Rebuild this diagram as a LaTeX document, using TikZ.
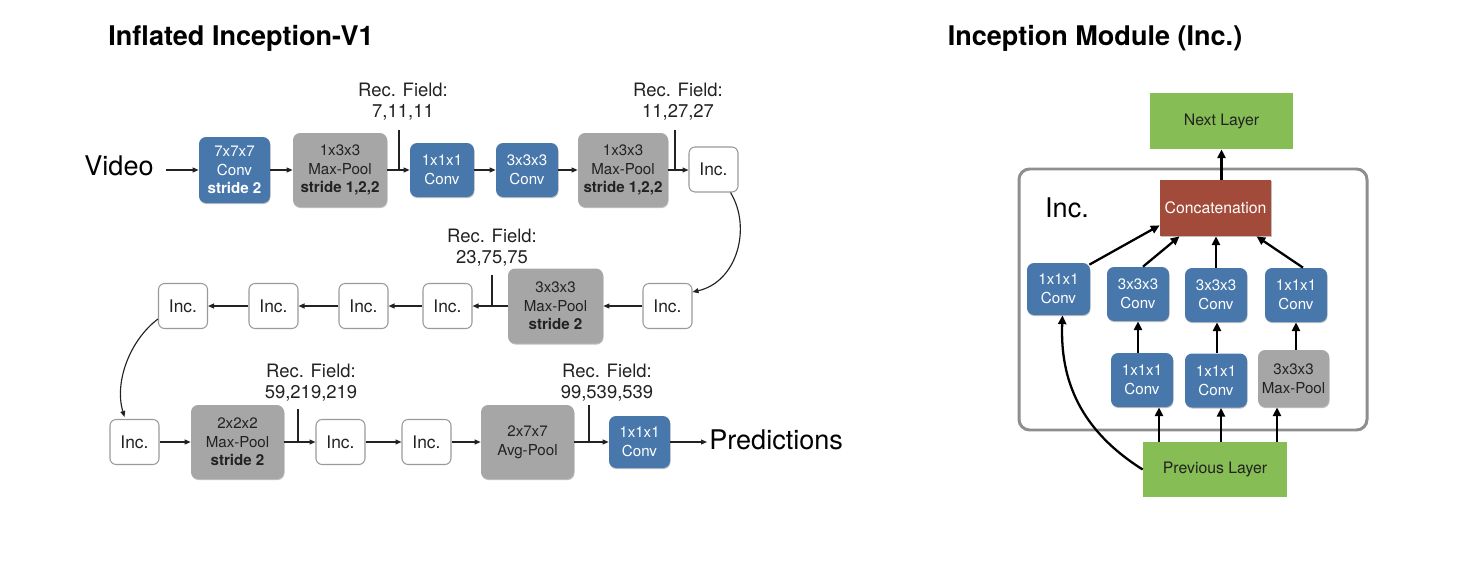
\documentclass[tikz,border=0pt]{standalone}
\usepackage{fontspec}
\setmainfont{TeX Gyre Heros}
\usetikzlibrary{arrows.meta,calc,shadows}

\definecolor{convblue}{HTML}{4878AB}
\definecolor{poolgray}{HTML}{A6A6A6}
\definecolor{layergreen}{HTML}{86BD55}
\definecolor{concatred}{HTML}{A34B3A}
\definecolor{framegray}{HTML}{8E8E8E}
\definecolor{incborder}{HTML}{9A9A9A}
\definecolor{ink}{HTML}{222222}

\tikzset{
  sz/.style 2 args={minimum width=#1*0.02cm, minimum height=#2*0.02cm},
  softshadow/.style={drop shadow={shadow xshift=0.3pt, shadow yshift=-0.6pt, opacity=0.25, fill=black}},
  blk/.style={rounded corners=4pt, inner sep=0pt, align=center,
    font=\fontsize{8.6}{10.6}\selectfont, softshadow},
  conv/.style={blk, fill=convblue, text=white},
  pool/.style={blk, fill=poolgray, text=ink},
  inc/.style={draw=incborder, line width=0.6pt, fill=white, rounded corners=3.5pt,
    sz={49}{45}, inner sep=0pt, font=\fontsize{9.9}{12}\selectfont, text=ink},
  rec/.style={align=center, font=\fontsize{10.5}{11.9}\selectfont, text=ink, inner sep=0pt},
  big/.style={font=\fontsize{15.4}{18}\selectfont, text=black, inner sep=0pt},
  title/.style={font=\fontsize{15.4}{18}\selectfont\bfseries, text=black, inner sep=0pt},
  arr/.style={-{Triangle[length=3.4pt,width=2.8pt]}, line width=0.65pt, draw=ink},
  recline/.style={line width=0.65pt, draw=ink},
  arrR/.style={-{Triangle[length=5pt,width=4.6pt]}, line width=1.3pt, draw=black},
  layer/.style={fill=layergreen, inner sep=0pt, font=\fontsize{9}{11}\selectfont, text=ink},
  rconv/.style={conv, rounded corners=4pt},
}

\begin{document}
\begin{tikzpicture}[x=0.02cm, y=-0.02cm]
\useasboundingbox (0,0) rectangle (1461,565);

% ---------- Inflated Inception-V1 ----------
\node[title] (t1) at (241,38) {Inflated Inception-V1};

% row 1
\node[big] (video) at (119,166) {Video};
\node[conv, sz={71}{66}] (c7) at (234.5,170) {7x7x7\\Conv\\\textbf{stride 2}};
\node[pool, sz={94}{74}] (mp1) at (340,170) {1x3x3\\Max-Pool\\\textbf{stride 1,2,2}};
\node[conv, sz={64}{54}] (c1) at (442,170) {1x1x1\\Conv};
\node[conv, sz={62}{54}] (c3) at (527,170) {3x3x3\\Conv};
\node[pool, sz={90}{74}] (mp2) at (623,170) {1x3x3\\Max-Pool\\\textbf{stride 1,2,2}};
\node[inc] (i1) at (713.5,169.5) {Inc.};

\node[rec] (rf1) at (403,102) {Rec. Field:\\7,11,11};
\node[rec] (rf2) at (678,102) {Rec. Field:\\11,27,27};
\coordinate (rl1) at (399,130);
\coordinate (rl2) at (675,130);

\draw[arr] ($(video.east |- c7.west)+(12,0)$) -- (c7.west);
\draw[arr] (c7.east) -- (mp1.west);
\draw[arr] (mp1.east) -- (c1.west);
\draw[arr] (c1.east) -- (c3.west);
\draw[arr] (c3.east) -- (mp2.west);
\draw[arr] (mp2.east) -- (i1.west |- mp2.east);
\draw[recline] (rl1) -- (rl1 |- mp1.east);
\draw[recline] (rl2) -- (rl2 |- mp2.east);

% row 2 (right to left)
\node[inc] (i2a) at (667.5,306) {Inc.};
\node[pool, sz={95}{75}] (mp3) at (555.5,306) {3x3x3\\Max-Pool\\\textbf{stride 2}};
\node[inc] (i2b) at (447.5,306) {Inc.};
\node[inc] (i2c) at (363.5,306) {Inc.};
\node[inc] (i2d) at (273.5,306) {Inc.};
\node[inc] (i2e) at (183,306) {Inc.};

\node[rec] (rf3) at (492,248) {Rec. Field:\\23,75,75};
\coordinate (rl3) at (492,275);

\coordinate (k1) at (752,228);
\coordinate (k2) at (737,282);
\draw[arr] ($(i1.south east)+(-8,0)$) .. controls (k1) and (k2) .. ($(i2a.east)+(0,-14)$);
\draw[arr] (i2a.west) -- (mp3.east);
\draw[arr] (mp3.west) -- (i2b.east);
\draw[arr] (i2b.west) -- (i2c.east);
\draw[arr] (i2c.west) -- (i2d.east);
\draw[arr] (i2d.west) -- (i2e.east);
\draw[recline] (rl3) -- (rl3 |- mp3.west);

% row 3
\node[inc] (i3a) at (134.5,442) {Inc.};
\node[pool, sz={93}{74}] (mp4) at (237.5,442) {2x2x2\\Max-Pool\\\textbf{stride 2}};
\node[inc] (i3b) at (340.5,442) {Inc.};
\node[inc] (i3c) at (426.5,442) {Inc.};
\node[pool, sz={93}{74}] (ap) at (527.5,442) {2x7x7\\Avg-Pool};
\node[conv, sz={61}{52}] (cf) at (639.5,442) {1x1x1\\Conv};
\node[big, anchor=west] (pred) at (709,440) {Predictions};

\node[rec] (rf4) at (311,382.5) {Rec. Field:\\59,219,219};
\node[rec] (rf5) at (607,382.5) {Rec. Field:\\99,539,539};
\coordinate (rl4) at (298,409);
\coordinate (rl5) at (589,405);

\coordinate (k3) at (130,340);
\coordinate (k4) at (114,382);
\draw[arr] ($(i2e.west)+(0,13)$) .. controls (k3) and (k4) .. ($(i3a.north)+(-10,-2)$);
\draw[arr] (i3a.east) -- (mp4.west);
\draw[arr] (mp4.east) -- (i3b.west);
\draw[arr] (i3b.east) -- (i3c.west);
\draw[arr] (i3c.east) -- (ap.west);
\draw[arr] (ap.east) -- (cf.west);
\draw[arr] (cf.east) -- ($(pred.west)+(-2,2)$);
\draw[recline] (rl4) -- (rl4 |- mp4.east);
\draw[recline] (rl5) -- (rl5 |- ap.east);

% ---------- Inception Module ----------
\node[title] (t2) at (1095,38) {Inception Module (Inc.)};

\draw[framegray, line width=1.7pt, rounded corners=6pt] (1019,169) rectangle (1367,430);
\node[big] (inclabel) at (1067,208) {Inc.};

\node[layer, sz={143}{56}] (next) at (1221.5,121) {Next Layer};
\node[fill=concatred, text=white, inner sep=0pt, sz={111}{56}, softshadow,
      font=\fontsize{9}{11}\selectfont] (cat) at (1215.5,208) {Concatenation};

\node[rconv, sz={63}{52}] (ca) at (1058.5,289) {1x1x1\\Conv};
\node[rconv, sz={62}{54}] (cb) at (1138,294) {3x3x3\\Conv};
\node[rconv, sz={62}{54}] (cc) at (1216,295) {3x3x3\\Conv};
\node[rconv, sz={62}{54}] (cd) at (1296,295) {1x1x1\\Conv};
\node[rconv, sz={62}{54}] (cbb) at (1142,380) {1x1x1\\Conv};
\node[rconv, sz={62}{54}] (ccb) at (1216,380.5) {1x1x1\\Conv};
\node[pool, sz={71}{57}] (mpr) at (1293.5,378.5) {3x3x3\\Max-Pool};
\node[layer, sz={144}{55}] (prev) at (1215,469.5) {Previous Layer};

\draw[arrR] (next.south |- cat.north) -- (next.south);
\draw[arrR] ($(ca.north east)+(-1,2)$) -- ($(cat.south west)+(0,-11)$);
\draw[arrR] ($(cb.north)+(5,0)$) -- ($(cat.south)+(-36,0)$);
\draw[arrR] (cc.north) -- (cc.north |- cat.south);
\draw[arrR] ($(cd.north)+(7,0)$) -- ($(cat.south)+(41,0)$);

\draw[arrR] (cb.south |- cbb.north) -- (cb.south);
\draw[arrR] ($(cc.south |- ccb.north)+(1,0)$) -- ($(cc.south)+(1,0)$);
\draw[arrR] (cd.south |- mpr.north) -- (cd.south);

\draw[arrR] ($(prev.north -| cbb.south)+(17,0)$) -- ($(cbb.south)+(17,0)$);
\draw[arrR] ($(prev.north -| ccb.south)+(5,0)$) -- ($(ccb.south)+(5,0)$);
\draw[arrR] ($(prev.north -| mpr.south)+(-16.5,0)$) -- ($(mpr.south)+(-16.5,0)$);

\coordinate (k5) at (1080,430);
\coordinate (k6) at (1060,380);
\draw[arrR] (prev.west) .. controls (k5) and (k6) .. ($(ca.south)+(4,0)$);

\end{tikzpicture}
\end{document}
